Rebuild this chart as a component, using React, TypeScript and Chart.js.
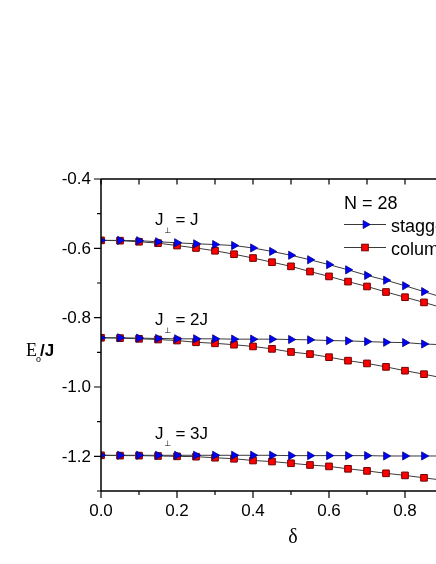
import React, { useEffect, useRef } from 'react';
import { Chart, registerables } from 'chart.js';

Chart.register(...registerables);

// ---- data ----
const deltas = [0, 0.05, 0.1, 0.15, 0.2, 0.25, 0.3, 0.35, 0.4, 0.45, 0.5, 0.55, 0.6, 0.65, 0.7, 0.75, 0.8, 0.85, 0.9];

const staggeredJ1 = [-0.577, -0.577, -0.578, -0.581, -0.584, -0.587, -0.589, -0.592, -0.599, -0.609, -0.620, -0.633, -0.647, -0.662, -0.678, -0.692, -0.708, -0.725, -0.742];
const columnarJ1 = [-0.577, -0.578, -0.581, -0.585, -0.592, -0.599, -0.607, -0.617, -0.628, -0.640, -0.652, -0.667, -0.681, -0.696, -0.710, -0.726, -0.741, -0.756, -0.772];

const staggeredJ2 = [-0.858, -0.858, -0.859, -0.860, -0.861, -0.861, -0.861, -0.862, -0.862, -0.862, -0.863, -0.864, -0.866, -0.867, -0.869, -0.871, -0.872, -0.876, -0.878];
const columnarJ2 = [-0.858, -0.859, -0.861, -0.863, -0.866, -0.871, -0.874, -0.878, -0.883, -0.890, -0.899, -0.905, -0.914, -0.924, -0.932, -0.942, -0.953, -0.963, -0.974];

const staggeredJ3 = [-1.197, -1.197, -1.197, -1.197, -1.197, -1.197, -1.197, -1.197, -1.197, -1.197, -1.198, -1.198, -1.198, -1.198, -1.198, -1.199, -1.199, -1.199, -1.199];
const columnarJ3 = [-1.197, -1.198, -1.198, -1.199, -1.200, -1.201, -1.204, -1.207, -1.212, -1.215, -1.220, -1.225, -1.229, -1.236, -1.242, -1.249, -1.255, -1.262, -1.269];

const xMajorTicks = [0, 0.2, 0.4, 0.6, 0.8, 1.0];
const xTickLabels = ['0.0', '0.2', '0.4', '0.6', '0.8', '1.0'];
const xMinorTicks = [0.1, 0.3, 0.5, 0.7, 0.9];
const yMajorTicks = [-0.4, -0.6, -0.8, -1.0, -1.2];
const yTickLabels = ['-0.4', '-0.6', '-0.8', '-1.0', '-1.2'];
const yMinorTicks = [-0.5, -0.7, -0.9, -1.1, -1.3];

const couplingNames = ['J', '2J', '3J'];
const legendTitle = 'N = 28';
const seriesNames = ['staggered', 'columnar'];

const BLUE = '#0000ff';
const BLUE_EDGE = '#00007a';
const RED = '#ff0000';
const RED_EDGE = '#700000';
const LINE = '#3a3a3a';

const SANS = '"Liberation Sans", Arial, sans-serif';
const SERIF = '"Liberation Serif", "Times New Roman", serif';

function stagDataset(values: number[]) {
  return {
    label: seriesNames[0],
    data: deltas.map((d, i) => ({ x: d, y: values[i] })),
    borderColor: LINE,
    borderWidth: 1,
    pointStyle: 'triangle',
    pointRotation: 90,
    pointRadius: 4.7,
    pointBackgroundColor: BLUE,
    pointBorderColor: BLUE_EDGE,
    pointBorderWidth: 0.8,
    order: 0,
    clip: 0,
  };
}

function colDataset(values: number[]) {
  return {
    label: seriesNames[1],
    data: deltas.map((d, i) => ({ x: d, y: values[i] })),
    borderColor: LINE,
    borderWidth: 1,
    pointStyle: 'rect',
    pointRadius: 4.7,
    pointBackgroundColor: RED,
    pointBorderColor: RED_EDGE,
    pointBorderWidth: 1,
    order: 1,
    clip: 0,
  };
}

function drawTriangleRight(ctx: CanvasRenderingContext2D, cx: number, cy: number, r: number) {
  ctx.beginPath();
  ctx.moveTo(cx + r, cy);
  ctx.lineTo(cx - r / 2, cy - r * 0.866);
  ctx.lineTo(cx - r / 2, cy + r * 0.866);
  ctx.closePath();
  ctx.fillStyle = BLUE;
  ctx.fill();
  ctx.strokeStyle = BLUE_EDGE;
  ctx.lineWidth = 0.8;
  ctx.stroke();
}

function drawSquare(ctx: CanvasRenderingContext2D, cx: number, cy: number, s: number) {
  ctx.fillStyle = RED;
  ctx.fillRect(cx - s / 2, cy - s / 2, s, s);
  ctx.strokeStyle = RED_EDGE;
  ctx.lineWidth = 1;
  ctx.strokeRect(cx - s / 2, cy - s / 2, s, s);
}

const decorPlugin = {
  id: 'decor',
  afterDatasetsDraw(chart: any) {
    const { ctx, chartArea: a, scales } = chart;
    const xs = scales.x;
    const ys = scales.y;
    ctx.save();

    // axis lines (left, bottom, top, right)
    ctx.strokeStyle = '#000';
    ctx.lineWidth = 1.5;
    ctx.beginPath();
    ctx.moveTo(a.left, a.top);
    ctx.lineTo(a.left, a.bottom);
    ctx.moveTo(a.left, a.bottom);
    ctx.lineTo(a.right, a.bottom);
    ctx.moveTo(a.left, a.top);
    ctx.lineTo(a.right, a.top);
    ctx.moveTo(a.right, a.top);
    ctx.lineTo(a.right, a.bottom);
    ctx.stroke();

    // ticks
    ctx.lineWidth = 1.2;
    ctx.beginPath();
    yMajorTicks.forEach((v) => {
      const py = ys.getPixelForValue(v);
      ctx.moveTo(a.left - 7, py);
      ctx.lineTo(a.left, py);
    });
    yMinorTicks.forEach((v) => {
      const py = ys.getPixelForValue(v);
      ctx.moveTo(a.left - 4, py);
      ctx.lineTo(a.left, py);
    });
    xMajorTicks.forEach((v) => {
      const px = xs.getPixelForValue(v);
      ctx.moveTo(px, a.bottom);
      ctx.lineTo(px, a.bottom + 7);
      ctx.moveTo(px, a.top);
      ctx.lineTo(px, a.top + 5.5);
    });
    xMinorTicks.forEach((v) => {
      const px = xs.getPixelForValue(v);
      ctx.moveTo(px, a.bottom);
      ctx.lineTo(px, a.bottom + 4);
      ctx.moveTo(px, a.top);
      ctx.lineTo(px, a.top + 5.5);
    });
    ctx.stroke();

    // tick labels
    ctx.fillStyle = '#000';
    ctx.font = `17px ${SANS}`;
    ctx.textAlign = 'right';
    ctx.textBaseline = 'middle';
    yMajorTicks.forEach((v, i) => {
      ctx.fillText(yTickLabels[i], a.left - 10, ys.getPixelForValue(v) + 0.5);
    });
    ctx.textAlign = 'center';
    ctx.textBaseline = 'alphabetic';
    xMajorTicks.forEach((v, i) => {
      ctx.fillText(xTickLabels[i], xs.getPixelForValue(v), a.bottom + 25);
    });

    // axis titles
    ctx.textAlign = 'center';
    ctx.font = `20px ${SERIF}`;
    ctx.fillText('δ', (a.left + a.right) / 2 + 2, a.bottom + 52);

    ctx.textAlign = 'left';
    const ty = 356;
    ctx.font = `18px ${SERIF}`;
    ctx.fillText('E', 26, ty);
    ctx.font = `10px ${SERIF}`;
    ctx.fillText('o', 36, ty + 6);
    ctx.font = `bold 17px ${SANS}`;
    ctx.fillText('/J', 40, ty);

    // coupling labels J⊥ = ...
    const labelY = [-0.534, -0.822, -1.149];
    couplingNames.forEach((name, i) => {
      const px = xs.getPixelForValue(0.142);
      const py = ys.getPixelForValue(labelY[i]);
      ctx.font = `17px ${SANS}`;
      ctx.fillText('J', px, py);
      ctx.font = `8px "DejaVu Sans", sans-serif`;
      ctx.fillText('⊥', px + 9.5, py + 7.5);
      ctx.font = `17px ${SANS}`;
      ctx.fillText('= ' + name, px + 20.5, py);
    });

    // legend
    ctx.font = `18px ${SANS}`;
    ctx.fillText(legendTitle, 344, 208.5);
    const rows = [224.5, 247.5];
    rows.forEach((ry, i) => {
      ctx.strokeStyle = LINE;
      ctx.lineWidth = 1;
      ctx.beginPath();
      ctx.moveTo(344, ry);
      ctx.lineTo(386, ry);
      ctx.stroke();
      if (i === 0) drawTriangleRight(ctx, 365.5, ry, 4.7);
      else drawSquare(ctx, 365, ry, 6.6);
      ctx.fillStyle = '#000';
      ctx.font = `18px ${SANS}`;
      ctx.fillText(seriesNames[i], 391, ry + 7);
    });

    ctx.restore();
  },
};

export default function App() {
  const canvasRef = useRef<HTMLCanvasElement | null>(null);

  useEffect(() => {
    const canvas = canvasRef.current;
    if (!canvas) return;
    const W = 520;
    const H = 564;
    const chart = new Chart(canvas, {
      type: 'line',
      data: {
        datasets: [
          stagDataset(staggeredJ1),
          stagDataset(staggeredJ2),
          stagDataset(staggeredJ3),
          colDataset(columnarJ1),
          colDataset(columnarJ2),
          colDataset(columnarJ3),
        ] as any,
      },
      options: {
        animation: false,
        responsive: false,
        devicePixelRatio: 1,
        layout: { padding: { left: 101, top: 179, right: W - 481, bottom: H - 491 } },
        plugins: { legend: { display: false }, tooltip: { enabled: false } },
        elements: { line: { tension: 0 } },
        scales: {
          x: { type: 'linear', min: 0, max: 1.0, display: false },
          y: { type: 'linear', min: -1.3, max: -0.4, display: false },
        },
      },
      plugins: [decorPlugin],
    });
    return () => chart.destroy();
  }, []);

  return (
    <div
      style={{
        position: 'fixed',
        left: 0,
        top: 0,
        width: 436,
        height: 564,
        overflow: 'hidden',
        background: '#fff',
      }}
    >
      <canvas ref={canvasRef} width={520} height={564} style={{ width: 520, height: 564, display: 'block' }} />
    </div>
  );
}
